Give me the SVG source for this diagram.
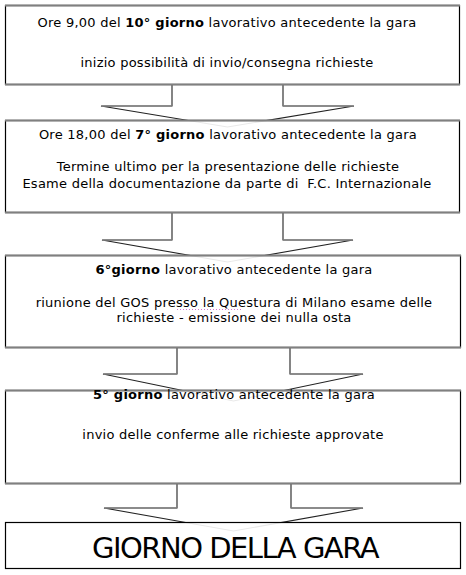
<svg xmlns="http://www.w3.org/2000/svg" width="466" height="575" viewBox="0 0 466 575">
<style>
.box{fill:#fff;fill-opacity:0.9;stroke:#000;stroke-width:1.2}
.edge{stroke:#808080;stroke-width:2;fill:none}
.arrow{fill:#fff;stroke:#222;stroke-width:1.1;stroke-linejoin:miter}
.barb{stroke:#8a8a8a;stroke-width:1.4}
.t{font-family:"DejaVu Sans",Verdana,sans-serif;font-size:13px;letter-spacing:0.25px;fill:#000;text-anchor:middle}
.b{font-weight:bold}
.big{font-family:"DejaVu Sans",Verdana,sans-serif;font-size:29px;letter-spacing:-1.5px;fill:#000;text-anchor:middle}
</style>
<rect width="466" height="575" fill="#fff"/>
<g id="connectors">
<path class="arrow" d="M172,85 V106 H101 L227.5,127 L354,106 H283 V85"/>
<line class="barb" x1="102" y1="106" x2="172" y2="106"/><line class="barb" x1="283" y1="106" x2="353" y2="106"/>
<path class="arrow" d="M172,213 V240 H102 L227.5,262 L353,240 H283 V213"/>
<line class="barb" x1="103" y1="240" x2="172" y2="240"/><line class="barb" x1="283" y1="240" x2="352" y2="240"/>
<path class="arrow" d="M177,348 V374 H103 L233.5,401 L363,374 H290 V348"/>
<line class="barb" x1="104" y1="374" x2="177" y2="374"/><line class="barb" x1="290" y1="374" x2="362" y2="374"/>
<path class="arrow" d="M177,484 V508 H104 L233.5,531 L363,508 H291 V484"/>
<line class="barb" x1="105" y1="508" x2="177" y2="508"/><line class="barb" x1="291" y1="508" x2="362" y2="508"/>
</g>
<g id="node1">
<rect class="box" x="5.5" y="5.5" width="454" height="79"/>
<line class="edge" x1="5" y1="5.5" x2="460" y2="5.5"/><line class="edge" x1="5" y1="84.5" x2="460" y2="84.5"/>
<text class="t" x="227" y="27">Ore 9,00 del <tspan class="b">10° giorno</tspan> lavorativo antecedente la gara</text>
<text class="t" x="227" y="67">inizio possibilità di invio/consegna richieste</text>
</g>
<g id="node2">
<rect class="box" x="5.5" y="120.5" width="454" height="92"/>
<line class="edge" x1="5" y1="120.5" x2="460" y2="120.5"/><line class="edge" x1="5" y1="212.5" x2="460" y2="212.5"/>
<text class="t" x="228" y="139">Ore 18,00 del <tspan class="b">7° giorno</tspan> lavorativo antecedente la gara</text>
<text class="t" x="228" y="171">Termine ultimo per la presentazione delle richieste</text>
<text class="t" x="227" y="188" xml:space="preserve">Esame della documentazione da parte di  F.C. Internazionale</text>
</g>
<g id="node3">
<rect class="box" x="5.5" y="255.5" width="455" height="92"/>
<line class="edge" x1="5" y1="255.5" x2="461" y2="255.5"/><line class="edge" x1="5" y1="347.5" x2="461" y2="347.5"/>
<text class="t" x="234" y="274"><tspan class="b">6°giorno</tspan> lavorativo antecedente la gara</text>
<text class="t" x="234" y="307">riunione del GOS presso la Questura di Milano esame delle</text>
<line x1="177" y1="309.5" x2="243" y2="309.5" stroke="#c040c0" stroke-width="1" stroke-dasharray="1,2" opacity="0.7"/>
<text class="t" x="234" y="322">richieste - emissione dei nulla osta</text>
</g>
<g id="node4">
<rect class="box" x="5.5" y="390.5" width="455" height="93"/>
<line class="edge" x1="5" y1="390.5" x2="461" y2="390.5"/><line class="edge" x1="5" y1="483.5" x2="461" y2="483.5"/>
<text class="t" x="234" y="399"><tspan class="b">5° giorno</tspan> lavorativo antecedente la gara</text>
<text class="t" x="233" y="439">invio delle conferme alle richieste approvate</text>
</g>
<g id="node5">
<rect class="box" x="5.5" y="522.5" width="455" height="46" stroke-width="1.5"/>
<text class="big" x="235" y="558">GIORNO DELLA GARA</text>
</g>
</svg>
